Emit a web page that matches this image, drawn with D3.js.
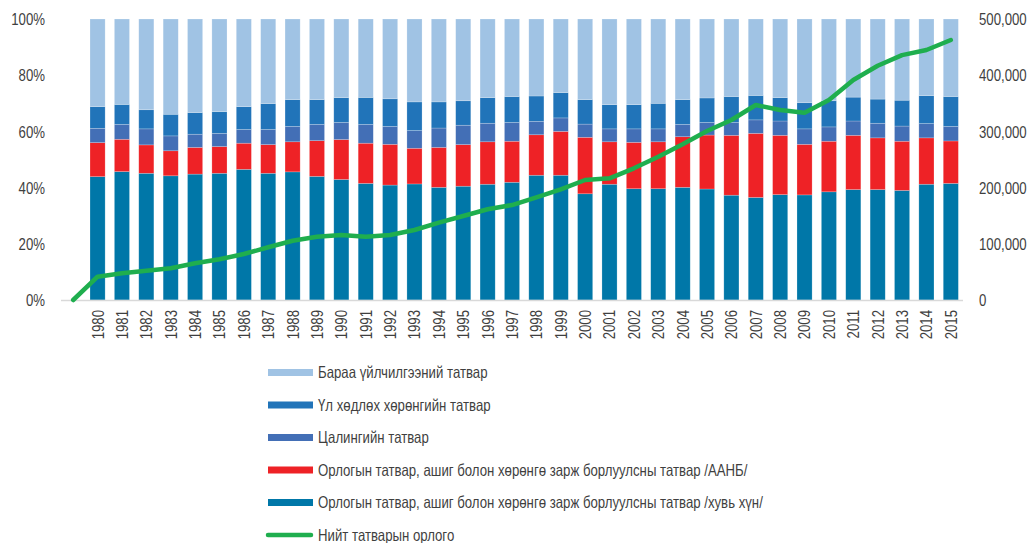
<!DOCTYPE html>
<html>
<head>
<meta charset="utf-8">
<script src="https://cdn.jsdelivr.net/npm/d3@7/dist/d3.min.js"></script>
<style>
  html, body { margin: 0; padding: 0; background: #fff; }
  svg text { font-family: "Liberation Sans", Arial, sans-serif; fill: #3f3f3f; }
</style>
</head>
<body>
<svg id="chart" width="1033" height="543"></svg>
<script>
// ---- data ----
const years = ["", "1980","1981","1982","1983","1984","1985","1986","1987","1988","1989","1990",
  "1991","1992","1993","1994","1995","1996","1997","1998","1999","2000","2001","2002","2003",
  "2004","2005","2006","2007","2008","2009","2010","2011","2012","2013","2014","2015"];

// shares in percent (bottom to top), the blank first category has no bars
const incomeIndividual = [null, 43.9,45.7,45.1,44.2,44.8,45.1,46.5,45.1,45.6,44.0,42.9,
  41.5,40.9,41.3,40.1,40.5,41.2,41.9,44.4,44.4,37.8,41.2,39.6,39.6,
  40.1,39.5,37.3,36.5,37.5,37.4,38.5,39.3,39.3,39.0,41.2,41.5];
const incomeCorporate = [null, 12.1,11.5,10.1,8.9,9.5,9.5,9.3,10.2,10.7,12.7,14.2,
  14.3,14.5,12.7,14.2,14.8,15.1,14.6,14.4,15.6,20.1,15.1,16.5,16.7,
  18.0,19.2,21.3,22.8,21.1,18.0,18.0,19.3,18.4,17.5,16.5,15.1];
const wageTax = [null, 5.1,5.3,5.7,5.3,4.7,4.7,4.9,5.4,5.5,5.8,6.1,
  6.7,6.4,6.3,6.9,6.9,6.6,6.7,4.8,4.8,4.7,4.6,4.8,4.6,
  4.4,4.5,4.6,4.8,5.1,5.5,5.1,5.1,5.2,5.4,5.1,5.2];
const propertyTax = [null, 7.7,7.1,6.8,7.7,7.7,7.7,8.1,9.2,9.5,8.8,8.8,
  9.6,9.8,10.2,9.3,8.7,9.1,9.2,9.0,9.0,8.7,8.6,8.6,9.1,
  8.8,8.7,9.2,8.7,8.3,9.3,9.3,8.5,8.6,9.2,9.9,10.6];
const goodsServicesTax = [null, 31.2,30.4,32.3,33.9,33.3,33.0,31.2,30.1,28.7,28.7,28.0,
  27.9,28.4,29.5,29.5,29.1,28.0,27.6,27.4,26.2,28.7,30.5,30.5,30.0,
  28.7,28.1,27.6,27.2,28.0,29.8,29.1,27.8,28.5,28.9,27.3,27.6];

// total tax revenue (right axis)
const totalRevenue = [0, 41500,47500,52000,56400,65300,72400,81800,93800,105500,112600,115700,
  112600,115700,124600,137600,149500,161400,169000,182700,196900,213500,216500,234300,255000,
  277000,300700,320300,347000,338000,333300,355900,391500,416900,435800,444800,462600];

const leftTicks = [0, 0.2, 0.4, 0.6, 0.8, 1.0];
const rightTicks = [0, 100000, 200000, 300000, 400000, 500000];

const seriesNames = [
  "Бараа үйлчилгээний татвар",
  "Үл хөдлөх хөрөнгийн татвар",
  "Цалингийн татвар",
  "Орлогын татвар, ашиг болон хөрөнгө зарж борлуулсны татвар /ААНБ/",
  "Орлогын татвар, ашиг болон хөрөнгө зарж борлуулсны татвар /хувь хүн/",
  "Нийт татварын орлого"
];

// ---- drawing ----
const svg = d3.select("#chart");
const colors = {
  indiv: "#0077a8",
  corp: "#ee2226",
  wage: "#436fb6",
  prop: "#2174b9",
  goods: "#a0c3e4",
  line: "#1fae4e"
};
const FS = 16.5;        // font size
const SX = 0.8;         // horizontal condensing of the text

const x = d3.scaleBand().domain(years).range([61, 963]).paddingInner(0.38).paddingOuter(0.19);
const y = d3.scaleLinear().domain([0, 1]).range([300, 19]);
const y2 = d3.scaleLinear().domain([0, 500000]).range([300, 19]);

const rows = years.map((yr, i) => ({
  year: yr,
  indiv: incomeIndividual[i] == null ? 0 : incomeIndividual[i] / 100,
  corp: incomeCorporate[i] == null ? 0 : incomeCorporate[i] / 100,
  wage: wageTax[i] == null ? 0 : wageTax[i] / 100,
  prop: propertyTax[i] == null ? 0 : propertyTax[i] / 100,
  goods: goodsServicesTax[i] == null ? 0 : goodsServicesTax[i] / 100
}));
const keys = ["indiv", "corp", "wage", "prop", "goods"];
const stacked = d3.stack().keys(keys)(rows);

svg.append("g").selectAll("g")
  .data(stacked).join("g")
  .attr("fill", d => colors[d.key])
  .selectAll("rect")
  .data(d => d.filter(p => p.data.year !== ""))
  .join("rect")
  .attr("x", d => x(d.data.year))
  .attr("width", x.bandwidth())
  .attr("y", d => y(d[1]))
  .attr("height", d => y(d[0]) - y(d[1]))
  .attr("stroke", "rgba(255,255,255,0.35)")
  .attr("stroke-width", 0.6);

// baseline
svg.append("line")
  .attr("x1", 61).attr("x2", 963)
  .attr("y1", y(0) + 0.5).attr("y2", y(0) + 0.5)
  .attr("stroke", "#d9d9d9").attr("stroke-width", 1.5);

// left axis
const leftAxis = d3.axisLeft(y).tickValues(leftTicks).tickFormat(d3.format(".0%")).tickSize(0).tickPadding(0);
const gL = svg.append("g").attr("transform", "translate(45,0)").call(leftAxis);
gL.select(".domain").remove();
gL.selectAll(".tick text")
  .attr("x", 0).attr("y", 0).attr("dy", "0.35em")
  .attr("font-size", FS)
  .attr("font-family", "Liberation Sans, Arial, sans-serif")
  .attr("fill", "#3f3f3f")
  .attr("transform", `scale(${SX},1)`);

// right axis
const rightAxis = d3.axisRight(y2).tickValues(rightTicks).tickFormat(d3.format(",")).tickSize(0).tickPadding(0);
const gR = svg.append("g").attr("transform", "translate(979,0)").call(rightAxis);
gR.select(".domain").remove();
gR.selectAll(".tick text")
  .attr("x", 0).attr("y", 0).attr("dy", "0.35em")
  .attr("font-size", FS)
  .attr("font-family", "Liberation Sans, Arial, sans-serif")
  .attr("fill", "#3f3f3f")
  .attr("transform", `scale(${SX},1)`);

// x axis labels (rotated)
const bottomAxis = d3.axisBottom(x).tickValues(years.filter(d => d !== "")).tickSize(0).tickPadding(0);
const gB = svg.append("g").attr("transform", "translate(0,310)").call(bottomAxis);
gB.select(".domain").remove();
gB.selectAll(".tick text")
  .attr("font-size", FS)
  .attr("transform", `rotate(-90) scale(${SX},1)`)
  .attr("text-anchor", "end")
  .attr("x", 0).attr("y", 0).attr("dy", "0.36em")
  .attr("font-family", "Liberation Sans, Arial, sans-serif")
  .attr("fill", "#3f3f3f");

// total line
const line = d3.line()
  .x((d, i) => x(years[i]) + x.bandwidth() / 2)
  .y(d => y2(d));
svg.append("path")
  .datum(totalRevenue)
  .attr("d", line)
  .attr("fill", "none")
  .attr("stroke", colors.line)
  .attr("stroke-width", 4.5)
  .attr("stroke-linejoin", "round")
  .attr("stroke-linecap", "round");

// legend
const legendColors = [colors.goods, colors.prop, colors.wage, colors.corp, colors.indiv, colors.line];
const legendY = d3.scalePoint().domain(seriesNames).range([372.5, 535]);
const lg = svg.append("g").selectAll("g").data(seriesNames).join("g")
  .attr("transform", d => `translate(0,${legendY(d)})`);
lg.each(function(d, i) {
  const g = d3.select(this);
  if (i < 5) {
    g.append("rect").attr("x", 268).attr("y", -3.5).attr("width", 45).attr("height", 7)
      .attr("fill", legendColors[i]);
  } else {
    g.append("line").attr("x1", 268).attr("x2", 311).attr("y1", 0).attr("y2", 0)
      .attr("stroke", legendColors[i]).attr("stroke-width", 4.5).attr("stroke-linecap", "round");
  }
  g.append("g").attr("transform", `translate(318,0) scale(${SX},1)`)
    .append("text").attr("x", 0).attr("y", 0).attr("dy", "0.35em")
    .attr("font-size", FS).text(d);
});
</script>
</body>
</html>
